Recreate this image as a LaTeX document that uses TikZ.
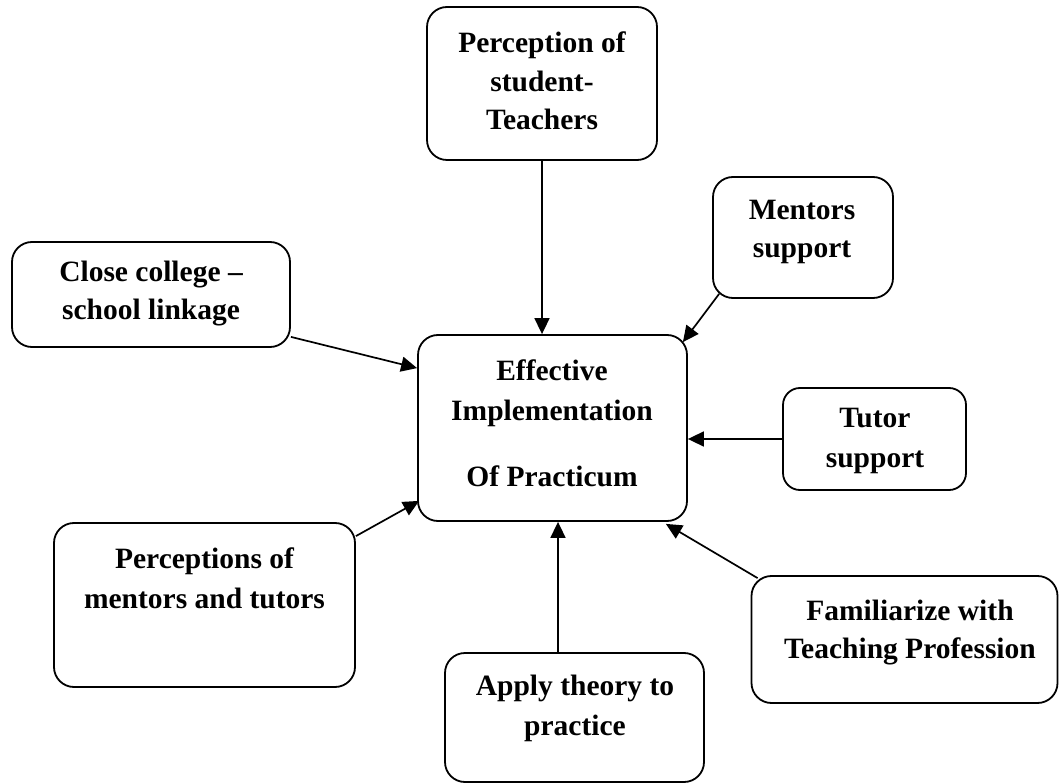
\documentclass[tikz,border=0pt]{standalone}
\usepackage{fontspec}
\setmainfont{Liberation Serif}
\usetikzlibrary{arrows.meta,calc}
\begin{document}
\begin{tikzpicture}[x=1pt,y=-1pt,
  box/.style={draw, line width=1.8pt, rounded corners=20pt, inner sep=0pt, fill=white},
  txt/.style={anchor=base, inner sep=0pt, font=\fontsize{29.5}{38.5}\selectfont\bfseries},
  conn/.style={line width=1.7pt, -{Triangle[length=16pt,width=15pt]}}]
\useasboundingbox (0,0) rectangle (1060,783);
% boxes
\node[box, minimum width=230pt, minimum height=153pt] (top) at (542,83.5) {};
\node[box, minimum width=180pt, minimum height=121pt] (men) at (803,237.5) {};
\node[box, minimum width=278pt, minimum height=105pt] (cls) at (151,294.5) {};
\node[box, minimum width=269pt, minimum height=186pt] (ctr) at (552.5,428) {};
\node[box, minimum width=183pt, minimum height=102pt, rounded corners=17pt] (tut) at (874.5,439) {};
\node[box, minimum width=301pt, minimum height=164pt] (per) at (204.5,605) {};
\node[box, minimum width=306pt, minimum height=127pt] (fam) at (904.5,639.5) {};
\node[box, minimum width=259pt, minimum height=129pt] (app) at (574.5,717.5) {};
% texts
\node[txt] (top1) at (542,53) {Perception of};
\node[txt] (top2) at (542,92) {student-};
\node[txt] (top3) at (542,130) {Teachers};
\node[txt] (men1) at (802,220) {Mentors};
\node[txt] (men2) at (802,258) {support};
\node[txt] (cls1) at (151,282) {Close college --};
\node[txt] (cls2) at (151,320) {school linkage};
\node[txt] (ctr1) at (552,381) {Effective};
\node[txt] (ctr2) at (552,420) {Implementation};
\node[txt] (ctr3) at (552,486) {Of Practicum};
\node[txt] (tut1) at (875,428) {Tutor};
\node[txt] (tut2) at (875,467) {support};
\node[txt] (per1) at (204.5,568) {Perceptions of};
\node[txt] (per2) at (204.5,608) {mentors and tutors};
\node[txt] (fam1) at (910,620) {Familiarize with};
\node[txt] (fam2) at (910,658) {Teaching Profession};
\node[txt] (app1) at (575,695) {Apply theory to};
\node[txt] (app2) at (575,735) {practice};
% connectors
\draw[conn] (top.south) -- (top.south |- ctr.north);
\draw[conn] ($(men.south west)+(7,-5)$) -- ($(ctr.north east)+(-5,8)$);
\draw[conn] ($(cls.south east)+(0,-11)$) -- ($(ctr.north west)+(0,34)$);
\draw[conn] (tut.west) -- (tut.west -| ctr.east);
\draw[conn] ($(per.north east)+(0,14)$) -- ($(ctr.south west)+(2,-21)$);
\coordinate (appx) at ($(app.north)+(-16.5,0)$);
\draw[conn] (appx) -- (appx |- ctr.south);
\draw[conn] ($(fam.north west)+(7,3)$) -- ($(ctr.south east)+(-22,2)$);
\end{tikzpicture}
\end{document}
